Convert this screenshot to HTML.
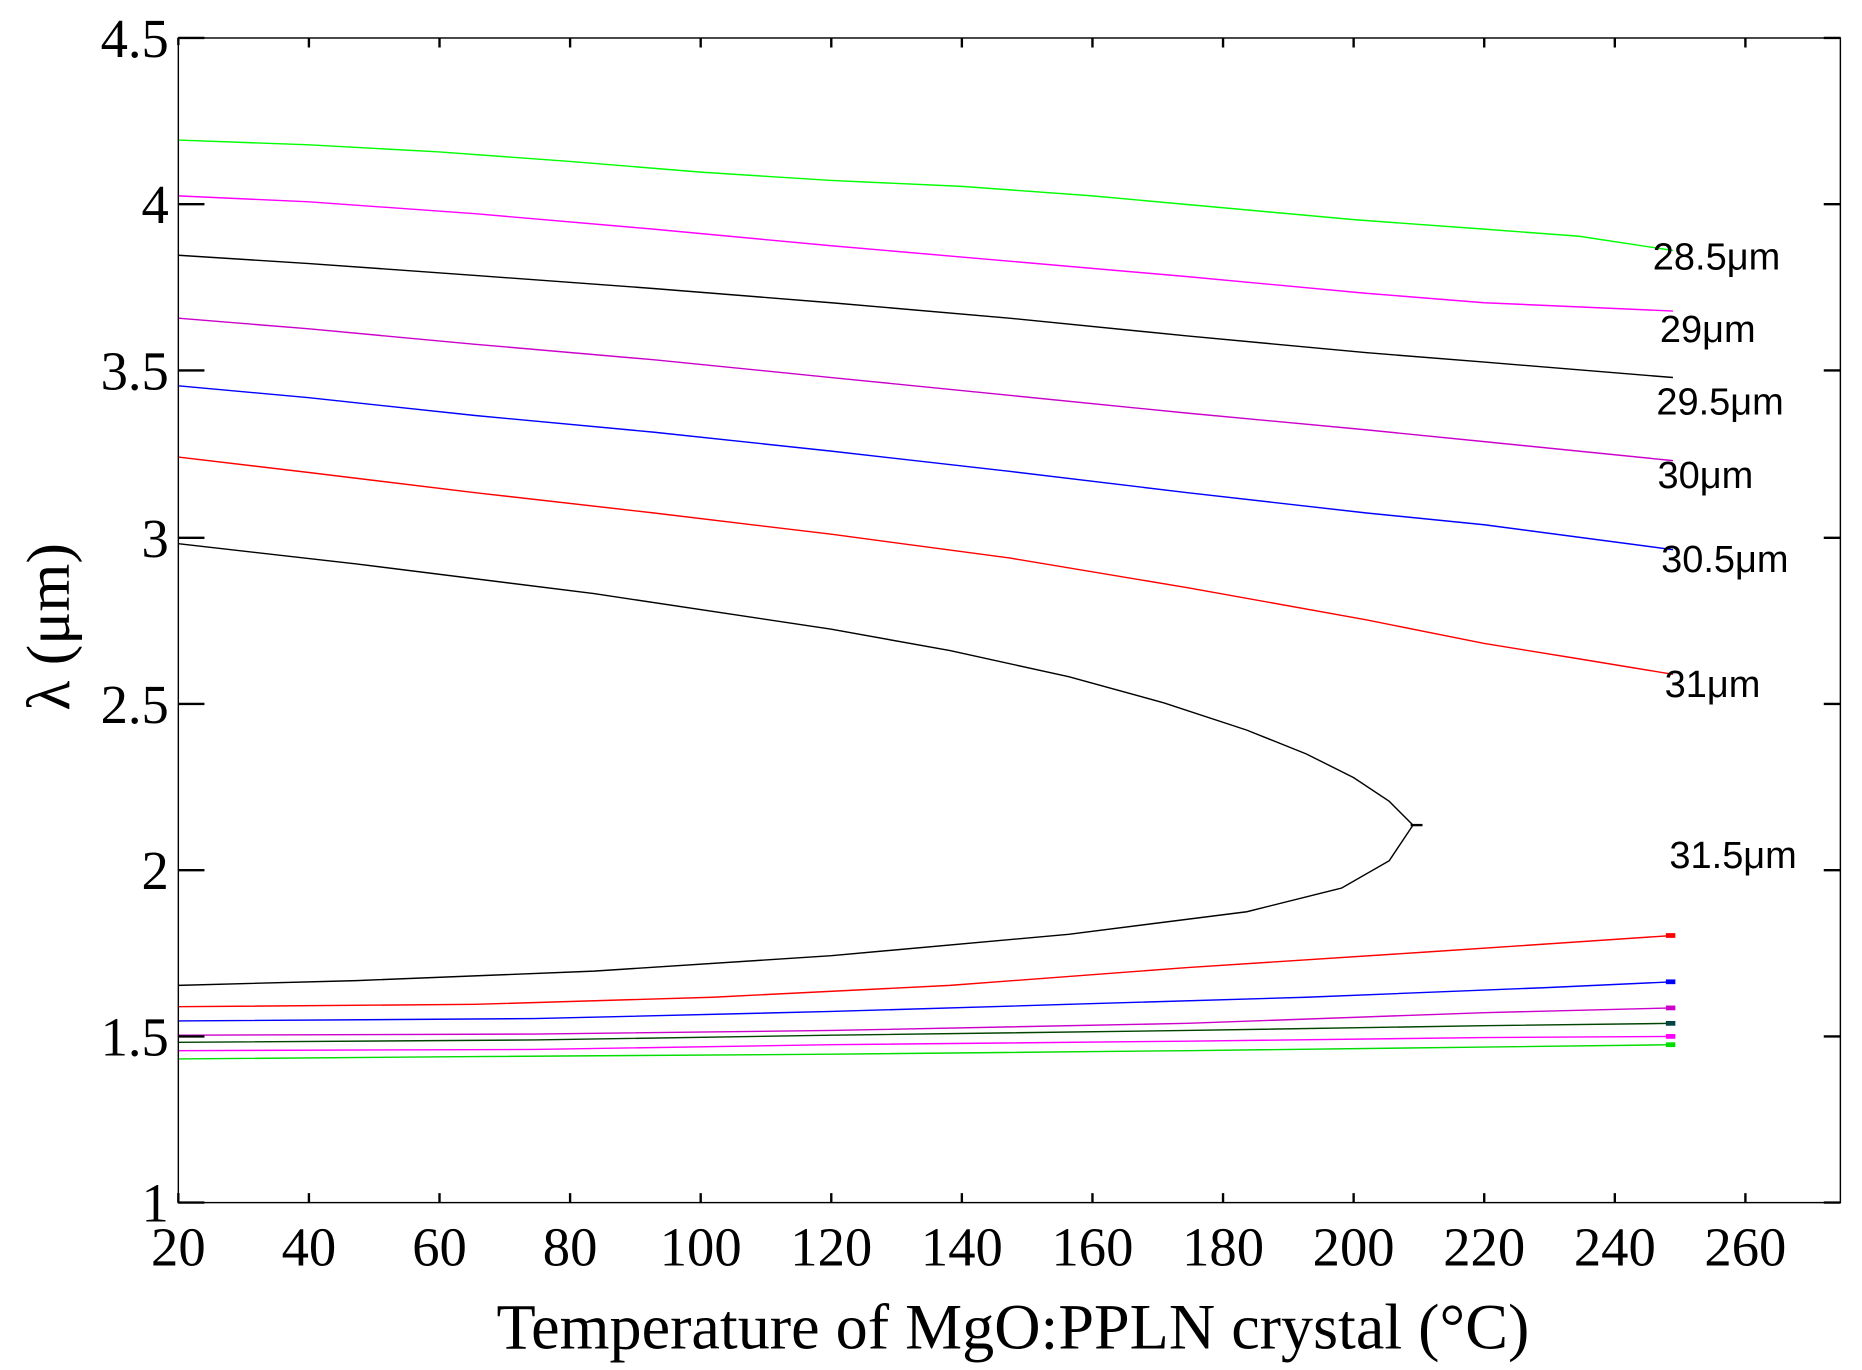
<!DOCTYPE html>
<html><head><style>html,body{margin:0;padding:0;background:#fff}svg{display:block}</style></head>
<body>
<svg width="1862" height="1370" viewBox="0 0 1568 1154" xmlns="http://www.w3.org/2000/svg">
<rect x="0" y="0" width="1568" height="1154" fill="#fff"/>
<g fill="none" stroke-width="1.2">
<polyline stroke="#00ff00" points="150,118 260,122 370,128 480,136 590,145 700,152 810,157 920,165 1030,175 1140,185 1250,193 1330,199 1409,211"/>
<polyline stroke="#ff00ff" points="150,165 260,170 400,180 550,193 700,207 850,220 1000,233 1150,247 1250,255 1409,262"/>
<polyline stroke="#000" points="150,215 260,222 400,232 550,243 700,255 850,268 1000,283 1150,297 1250,305 1409,318"/>
<polyline stroke="#cc00cc" points="150,268 260,277 400,290 550,303 700,318 850,333 1000,348 1150,362 1250,372 1409,388"/>
<polyline stroke="#0000ff" points="150,325 260,335 400,350 550,364 700,380 850,397 1000,415 1150,432 1250,442 1409,463"/>
<polyline stroke="#ff0000" points="150,385 260,398 400,415 550,432 700,450 850,470 1000,495 1150,522 1250,542 1330,555 1409,568"/>
<polyline stroke="#000" points="150,458 300,475 500,500 700,530 800,548 900,570 980,592 1050,615 1100,635 1140,655 1170,675 1190,695 1170,725 1130,748 1050,768 900,787 700,805 500,818 300,826 150,830"/>
<line stroke="#000" x1="1188" y1="695" x2="1198" y2="695" stroke-width="2"/>
<polyline stroke="#ff0000" points="150,848 400,846 600,840 800,830 1000,815 1200,802 1409,788"/>
<polyline stroke="#0000ff" points="150,860 450,858 700,852 900,846 1100,840 1300,832 1409,827"/>
<polyline stroke="#cc00cc" points="150,872 450,871 700,868 1000,862 1250,853 1409,849"/>
<polyline stroke="#004400" points="150,878 450,876 700,872 1000,868 1250,864 1409,862"/>
<polyline stroke="#ff00ff" points="150,885 450,884 700,880 1000,877 1250,874 1409,873"/>
<polyline stroke="#00dd00" points="150,892 400,890 700,888 1000,885 1250,882 1409,880"/>
</g>
<g stroke-width="4">
<line stroke="#f00" x1="1403" y1="788" x2="1411" y2="788"/>
<line stroke="#00f" x1="1403" y1="827" x2="1411" y2="827"/>
<line stroke="#c0c" x1="1403" y1="849" x2="1411" y2="849"/>
<line stroke="#044" x1="1403" y1="862" x2="1411" y2="862"/>
<line stroke="#f0f" x1="1403" y1="873" x2="1411" y2="873"/>
<line stroke="#0d0" x1="1403" y1="880" x2="1411" y2="880"/>
</g>
<rect x="150" y="32" width="1400" height="981" fill="none" stroke="#000" stroke-width="1.2"/>
<g stroke="#000" stroke-width="2">
<path d="M150,32v6M260,32v8M370,32v8M480,32v8M590,32v8M700,32v8M810,32v8M920,32v8M1030,32v8M1140,32v8M1250,32v8M1360,32v8M1470,32v8
M150,1013v-8M260,1013v-8M370,1013v-8M480,1013v-8M590,1013v-8M700,1013v-8M810,1013v-8M920,1013v-8M1030,1013v-8M1140,1013v-8M1250,1013v-8M1360,1013v-8M1470,1013v-8
M150,32h22M150,172h22M150,312h22M150,453h22M150,593h22M150,733h22M150,873h22M150,1013h22
M1550,32h-14M1550,172h-14M1550,312h-14M1550,453h-14M1550,593h-14M1550,733h-14M1550,873h-14M1550,1013h-14"/>
</g>
<g font-family="Liberation Serif, serif" font-size="46" fill="#000">
<g text-anchor="middle">
<text x="150" y="1066">20</text><text x="260" y="1066">40</text><text x="370" y="1066">60</text><text x="480" y="1066">80</text>
<text x="590" y="1066">100</text><text x="700" y="1066">120</text><text x="810" y="1066">140</text><text x="920" y="1066">160</text>
<text x="1030" y="1066">180</text><text x="1140" y="1066">200</text><text x="1250" y="1066">220</text><text x="1360" y="1066">240</text><text x="1470" y="1066">260</text>
</g>
<g text-anchor="end">
<text x="142" y="48">4.5</text><text x="142" y="188">4</text><text x="142" y="328">3.5</text><text x="142" y="469">3</text>
<text x="142" y="609">2.5</text><text x="142" y="749">2</text><text x="142" y="889">1.5</text><text x="142" y="1029">1</text>
</g>
<text x="418" y="1136" font-size="54" textLength="870" lengthAdjust="spacingAndGlyphs">Temperature of MgO:PPLN crystal (°C)</text>
<text transform="translate(58,528) rotate(-90)" text-anchor="middle" font-size="52">λ (μm)</text>
</g>
<g font-family="Liberation Sans, sans-serif" font-size="32" fill="#000">
<text x="1392" y="227">28.5μm</text>
<text x="1398" y="288">29μm</text>
<text x="1395" y="349">29.5μm</text>
<text x="1396" y="411">30μm</text>
<text x="1399" y="482">30.5μm</text>
<text x="1402" y="587">31μm</text>
<text x="1406" y="731">31.5μm</text>
</g>
</svg>
</body></html>
